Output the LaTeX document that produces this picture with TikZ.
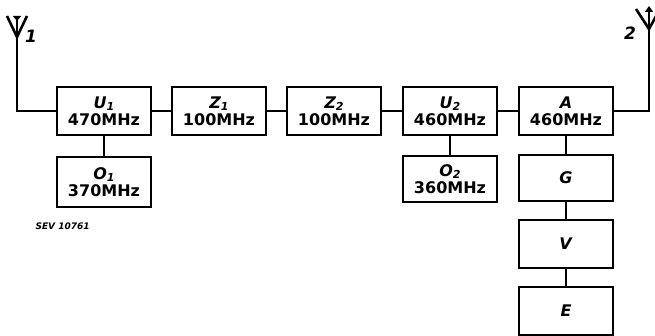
\documentclass[tikz,border=0pt]{standalone}
\usepackage{fontspec}
\setmainfont{DejaVu Sans}
\usetikzlibrary{arrows.meta}
\newcommand{\idx}[1]{\raisebox{-2pt}{\fontsize{11}{11}\selectfont #1}}
\begin{document}
\begin{tikzpicture}%
	[x={(1pt, 0pt)},
	y={(0pt, -1pt)},
	wire/.style={line width=2.6pt},
	block/.style={draw, line width=2.6pt, minimum width=94pt, minimum height=48pt, inner sep=0pt, align=center, font=\fontsize{16}{17}\selectfont\bfseries},
	tag/.style={font=\fontsize{17}{17}\selectfont\bfseries\itshape},
	tiptop/.style={-{Triangle[width=8pt,length=6pt]}},
	tipdown/.style={-{Triangle[reversed,width=8pt,length=5pt]}}]
%
\useasboundingbox (0,0) rectangle (655,336);
%%
%% Drawing the blocks
%%
\node[block] (U1) at (104,111) {\textit{U\idx{1}}\\470MHz};
\node[block] (Z1) at (219,111) {\textit{Z\idx{1}}\\100MHz};
\node[block] (Z2) at (334,111) {\textit{Z\idx{2}}\\100MHz};
\node[block] (U2) at (450,111) {\textit{U\idx{2}}\\460MHz};
\node[block] (A) at (566,111) {\textit{A}\\460MHz};
\node[block, minimum height=50pt] (O1) at (104,182) {\textit{O\idx{1}}\\370MHz};
\node[block, minimum height=46pt] (O2) at (450,179) {\textit{O\idx{2}}\\360MHz};
\node[block, minimum height=46pt] (G) at (566,178) {\textit{G}};
\node[block] (V) at (566,244) {\textit{V}};
\node[block] (E) at (566,311) {\textit{E}};
%%
%% Drawing the antennas
%%
\coordinate (ant1) at (17,111);
\coordinate (ant1top) at (17,16);
\coordinate (ant1foot) at (17,37);
\coordinate (ant1l) at (7,16);
\coordinate (ant1r) at (27,16);
\coordinate (ant2) at (649,111);
\coordinate (ant2top) at (649,6);
\coordinate (ant2foot) at (649,29);
\coordinate (ant2l) at (636,9);
\coordinate (ant2r) at (660,9);
\draw[wire, tipdown] (U1.west) -- (ant1) -- (ant1top);
\draw[wire] (ant1l) -- (ant1foot) -- (ant1r);
\draw[wire, tiptop] (A.east) -- (ant2) -- (ant2top);
\draw[wire] (ant2l) -- (ant2foot) -- (ant2r);
\node[tag] (n1) at (31,36) {1};
\node[tag] (n2) at (630,33) {2};
%%
%% Drawing the connections
%%
\draw[wire] (U1) -- (Z1);
\draw[wire] (Z1) -- (Z2);
\draw[wire] (Z2) -- (U2);
\draw[wire] (U2) -- (A);
\draw[wire] (U1) -- (O1);
\draw[wire] (U2) -- (O2);
\draw[wire] (A) -- (G);
\draw[wire] (G) -- (V);
\draw[wire] (V) -- (E);
%
\node[anchor=west, font=\fontsize{9}{9}\selectfont\bfseries\itshape] (sev) at (32,226) {SEV 10761};
\end{tikzpicture}
\end{document}
